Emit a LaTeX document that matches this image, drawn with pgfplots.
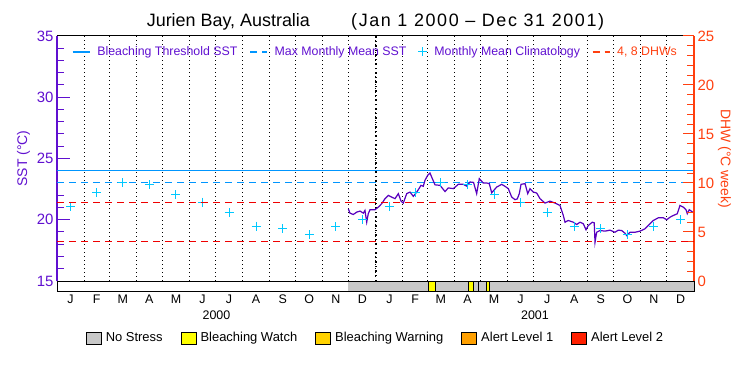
\documentclass[border=0pt]{standalone}
\usepackage{fontspec}
\setmainfont{Liberation Sans}
\usepackage{pgfplots}
\pgfplotsset{compat=1.18}
\pgfplotsset{/pgf/number format/assume math mode=true}
\definecolor{sstpurple}{RGB}{96,16,208}
\definecolor{linepurple}{RGB}{88,0,190}
\definecolor{dhwred}{RGB}{255,64,16}
\definecolor{thrblue}{RGB}{0,150,255}
\definecolor{climcyan}{RGB}{0,200,255}
\definecolor{dashred}{RGB}{240,0,0}
\definecolor{nostress}{RGB}{200,200,200}
\definecolor{watch}{RGB}{255,255,0}
\definecolor{warning}{RGB}{255,210,0}
\definecolor{alertone}{RGB}{255,160,0}
\definecolor{alerttwo}{RGB}{255,32,0}
\pgfplotstableread{
day sst
334.3 20.9
336.2 20.54
340.0 20.43
343.9 20.62
347.7 20.71
351.5 20.54
353.4 20.76
355.4 19.8
357.2 20.49
359.2 20.82
364.9 20.82
368.7 21.03
372.6 21.31
376.4 21.72
380.2 21.99
384.1 21.85
387.9 21.72
391.7 22.13
394.8 21.52
397.4 21.36
401.3 22.13
405.1 22.26
408.9 21.91
412.8 22.26
415.4 22.54
417.7 22.81
420.3 22.73
422.3 23.22
425.4 23.63
428.0 23.82
430.7 23.36
433.8 22.85
439.5 22.81
445.3 22.3
449.0 22.6
454.8 22.54
460.5 22.89
466.3 22.89
470.0 22.75
474.0 23.08
478.0 23.05
481.6 22.13
484.6 23.36
489.2 23.0
493.1 23.0
496.1 22.95
498.8 22.2
504.6 22.67
510.3 22.89
514.1 22.73
517.9 22.54
521.8 21.85
525.6 21.64
528.2 21.7
530.5 22.13
532.5 22.89
537.1 22.95
540.2 22.13
542.8 22.54
546.6 22.26
550.5 22.18
554.3 21.72
560.0 21.36
565.7 21.52
571.5 21.36
577.2 21.17
581.0 20.35
583.0 19.8
586.7 19.94
592.5 19.8
596.4 19.61
600.2 19.8
604.0 19.67
607.1 19.18
609.7 19.53
614.3 19.8
616.5 19.75
617.4 18.16
619.3 18.98
623.1 19.12
628.9 19.07
634.6 19.15
640.3 18.98
644.1 19.15
648.0 19.12
651.8 18.9
653.7 18.71
657.5 18.98
663.3 18.98
669.0 19.07
674.8 19.26
680.5 19.67
684.3 19.94
690.0 20.16
695.8 20.16
699.7 20.0
703.5 20.21
707.3 20.35
711.8 20.49
714.9 21.17
718.7 21.03
721.8 20.82
723.3 20.49
725.6 20.82
729.5 20.62
731.0 20.6
}\ssttable
\pgfplotstableread{
day clim
15.5 21.1
45.5 22.2
75.5 23.0
106 22.87
136.5 22.05
167 21.44
197.5 20.57
228.5 19.48
259 19.26
289.5 18.77
320 19.43
350.5 20.02
381.5 21.1
411 22.2
440.5 23.0
471 22.87
501.5 22.05
532 21.44
562.5 20.57
593.5 19.48
624 19.26
654.5 18.77
685 19.43
715.5 20.02
}\climtable
\begin{document}
\begin{tikzpicture}
\path[use as bounding box] (-57bp,-94bp) rectangle (693bp,281bp);
% main SST axis
\begin{axis}[name=main, at={(0,0)}, anchor=south west,
  width=637bp, height=245bp, scale only axis,
  xmin=0, xmax=731, ymin=15, ymax=35,
  separate axis lines,
  x axis line style={black, line width=1bp},
  y axis line style={sstpurple, line width=1.2bp},
  xtick={31,60,91,121,152,182,213,244,274,305,335,366,397,425,456,486,517,547,578,609,639,670,700},
  xticklabels={}, xtick style={draw=none},
  xmajorgrids=true,
  major x grid style={black, line width=1bp, dash pattern=on 1bp off 3bp},
  extra x ticks={366}, extra x tick labels={},
  extra x tick style={major x grid style={black, line width=2bp, dash pattern=on 1.5bp off 3bp}},
  ytick={15,20,25,30,35}, minor ytick={16,17,18,19,21,22,23,24,26,27,28,29,31,32,33,34},
  ytick pos=left, tick align=inside,
  ytick style={sstpurple, line width=1bp},
  major tick length=13bp, minor tick length=7bp,
  yticklabel style={sstpurple, font=\fontsize{15}{15}\selectfont},
  ylabel={SST (°C)},
  ylabel style={sstpurple, font=\fontsize{14}{14}\selectfont},
  title={Jurien Bay, Australia\hspace{2.3em}{\addfontfeature{LetterSpace=9}(Jan 1 2000 – Dec 31 2001)}},
  title style={font=\fontsize{18}{20}\selectfont, yshift=-4bp},
  legend columns=4,
  legend style={at={(0.5,0.935)}, anchor=center, draw=none, fill=none,
    text=sstpurple, font=\fontsize{12.4}{13}\selectfont,
    /tikz/every odd column/.append style={column sep=5bp},
    /tikz/every even column/.append style={column sep=10bp}},
]
\addplot[thrblue, line width=1.2bp] coordinates {(0,24.0) (731,24.0)};
\addlegendentry{Bleaching Threshold SST}
\addplot[thrblue, line width=1.2bp, dash pattern=on 7bp off 5bp] coordinates {(0,23.03) (731,23.03)};
\addlegendentry{Max Monthly Mean SST}
\addplot[only marks, mark=+, mark size=4.5bp, climcyan, line width=1bp] table[x=day, y=clim] {\climtable};
\addlegendentry{Monthly Mean Climatology}
\addlegendimage{dhwred, line width=1.2bp, dash pattern=on 7bp off 5bp}
\addlegendentry{\textcolor{dhwred}{4, 8 DHWs}}
\addplot[linepurple, line width=1.2bp, forget plot] table[x=day, y=sst] {\ssttable};
\end{axis}
% DHW axis
\begin{axis}[at={(0,0)}, anchor=south west,
  width=637bp, height=245bp, scale only axis,
  xmin=0, xmax=731, ymin=0, ymax=25,
  axis x line=none, axis y line*=right,
  y axis line style={dhwred, line width=1.4bp},
  ytick={0,5,10,15,20,25}, minor ytick={1,2,3,4,6,7,8,9,11,12,13,14,16,17,18,19,21,22,23,24},
  tick align=inside, ytick style={dhwred, line width=1bp},
  major tick length=11bp, minor tick length=7bp,
  yticklabel style={dhwred, font=\fontsize{15}{15}\selectfont},
  ylabel={DHW (°C week)},
  ylabel style={dhwred, rotate=180, font=\fontsize{14}{14}\selectfont, yshift=-3bp},
]
\addplot[dashred, line width=1.2bp, dash pattern=on 7bp off 5bp] coordinates {(0,4) (731,4)};
\addplot[dashred, line width=1.2bp, dash pattern=on 7bp off 5bp] coordinates {(0,8) (731,8)};
\end{axis}
% stress bar axis
\begin{axis}[at={(main.south west)}, anchor=north west,
  width=637bp, height=10bp, scale only axis,
  xmin=0, xmax=731, ymin=0, ymax=1,
  axis on top, axis line style={black, line width=1bp},
  ytick=\empty,
  xtick={15.5,45.5,75.5,106,136.5,167,197.5,228.5,259,289.5,320,350.5,381.5,411,440.5,471,501.5,532,562.5,593.5,624,654.5,685,715.5},
  xticklabels={J,F,M,A,M,J,J,A,S,O,N,D,J,F,M,A,M,J,J,A,S,O,N,D},
  xtick style={draw=none},
  xticklabel style={font=\fontsize{12.5}{13}\selectfont},
  extra x ticks={183,548.5}, extra x tick labels={2000,2001},
  extra x tick style={xticklabel style={yshift=-16bp}},
  legend columns=5,
  legend style={at={(0.5,-4.7)}, anchor=center, draw=none, fill=none,
    font=\fontsize{13}{14}\selectfont,
    /tikz/every odd column/.append style={column sep=2bp},
    /tikz/every even column/.append style={column sep=16bp}},
  legend image code/.code={\draw[#1, draw=black, line width=0.9bp] (0bp,-6bp) rectangle (15bp,6bp);},
]
\addplot[fill=nostress, draw=none, forget plot] coordinates {(334,1) (731,1)} \closedcycle;
\addplot[fill=watch, draw=black, line width=0.9bp, forget plot] coordinates {(426,1) (434.6,1)} \closedcycle;
\addplot[fill=watch, draw=black, line width=0.9bp, forget plot] coordinates {(472,1) (477.7,1)} \closedcycle;
\addplot[black, line width=1.3bp, forget plot] coordinates {(483.5,0) (483.5,1)};
\addplot[fill=watch, draw=black, line width=0.9bp, forget plot] coordinates {(492.5,1) (495.8,1)} \closedcycle;
\addlegendimage{fill=nostress}\addlegendentry{No Stress}
\addlegendimage{fill=watch}\addlegendentry{Bleaching Watch}
\addlegendimage{fill=warning}\addlegendentry{Bleaching Warning}
\addlegendimage{fill=alertone}\addlegendentry{Alert Level 1}
\addlegendimage{fill=alerttwo}\addlegendentry{Alert Level 2}
\end{axis}
\end{tikzpicture}
\end{document}
